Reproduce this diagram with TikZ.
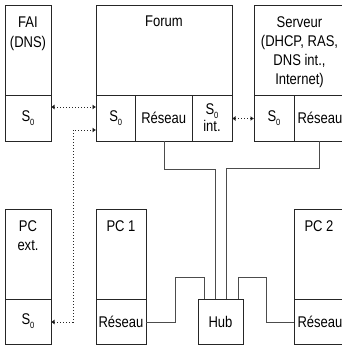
\documentclass[tikz,border=0pt]{standalone}
\usepackage{fontspec}
\setmainfont[FakeStretch=0.84]{Liberation Sans}
\usetikzlibrary{arrows.meta}
\tikzset{
  x=1pt,y=-1pt,
  cell/.style={draw=black!85,line width=0.8pt,inner sep=0pt,outer sep=0pt,anchor=north west,align=center,font=\fontsize{15.5}{20}\selectfont},
  caption/.style={inner sep=0pt,anchor=north,align=center,font=\fontsize{15.5}{19.3}\selectfont},
  wire/.style={draw=black!70,line width=0.8pt},
  dots/.style={draw=black!85,line width=0.9pt,dash pattern=on 1pt off 2pt},
  tips/.style={dots,{Latex[length=3.5pt,width=5pt,fill=black]}-{Latex[length=3.5pt,width=5pt,fill=black]}},
}
\newcommand{\So}{S\raisebox{-0.25em}{\fontsize{9}{9}\selectfont 0}}
\begin{document}
\begin{tikzpicture}
\useasboundingbox (0,0) rectangle (342,345);
\clip (0,0) rectangle (342,345);
% top row
\node[cell,minimum width=46pt,minimum height=90pt] (fai) at (5,5) {};
\node[cell,minimum width=46pt,minimum height=46pt] (fais) at (5,95) {\So};
\node[cell,minimum width=136pt,minimum height=90pt] (forum) at (96,5) {};
\node[cell,minimum width=39.5pt,minimum height=46pt] (forums) at (96,95) {\So};
\node[cell,minimum width=56.5pt,minimum height=46pt] (forumr) at (135.5,95) {Réseau};
\node[cell,minimum width=40pt,minimum height=46pt] (forumi) at (192,95) {\So\\[-3pt]int.};
\node[cell,minimum width=92pt,minimum height=90pt] (serv) at (254,5) {};
\node[cell,minimum width=40pt,minimum height=46pt] (servs) at (254,95) {\So};
\node[cell,minimum width=52pt,minimum height=46pt] (servr) at (294,95) {Réseau};
% bottom row
\node[cell,minimum width=46pt,minimum height=90pt] (ext) at (5,209) {};
\node[cell,minimum width=46pt,minimum height=45pt] (exts) at (5,299) {\So};
\node[cell,minimum width=50pt,minimum height=90pt] (pca) at (96,209) {};
\node[cell,minimum width=50pt,minimum height=45pt] (pcar) at (96,299) {Réseau};
\node[cell,minimum width=52pt,minimum height=90pt] (pcb) at (294,209) {};
\node[cell,minimum width=52pt,minimum height=45pt] (pcbr) at (294,299) {Réseau};
\node[cell,minimum width=45pt,minimum height=45pt] (hub) at (198,299) {Hub};
% captions
\node[caption] (tfai) at (28,17) {FAI\\(DNS)};
\node[caption] (tforum) at (164,16) {Forum};
\node[caption] (tserv) at (299.5,16) {Serveur\\(DHCP, RAS,\\DNS int.,\\Internet)};
\node[caption] (text) at (28,220) {PC\\ext.};
\node[caption] (tpca) at (121,220) {PC 1};
\node[caption] (tpcb) at (319,220) {PC 2};
% wired links
\draw[wire] (forumr.south -| 164,0) -- (164,169) -- (215,169) -- (hub.north -| 215,0);
\draw[wire] (servr.south -| 319,0) -- (319,168) -- (226,168) -- (hub.north -| 226,0);
\draw[wire] (pcar.east) ++(0,0.5) -- (175,322) -- (175,277) -- (204,277) -- (hub.north -| 204,0);
\draw[wire] (hub.north -| 238,0) -- (238,277) -- (266,277) -- (266,322) -- (pcbr.west |- 0,322);
% dotted links
\draw[tips] (fais.east |- 0,107) -- (forums.west |- 0,107);
\draw[tips] (forumi.east |- 0,118.5) -- (servs.west |- 0,118.5);
\draw[tips] (exts.east |- 0,322) -- (73,322) -- (73,130) -- (forums.west |- 0,130);
\end{tikzpicture}
\end{document}
